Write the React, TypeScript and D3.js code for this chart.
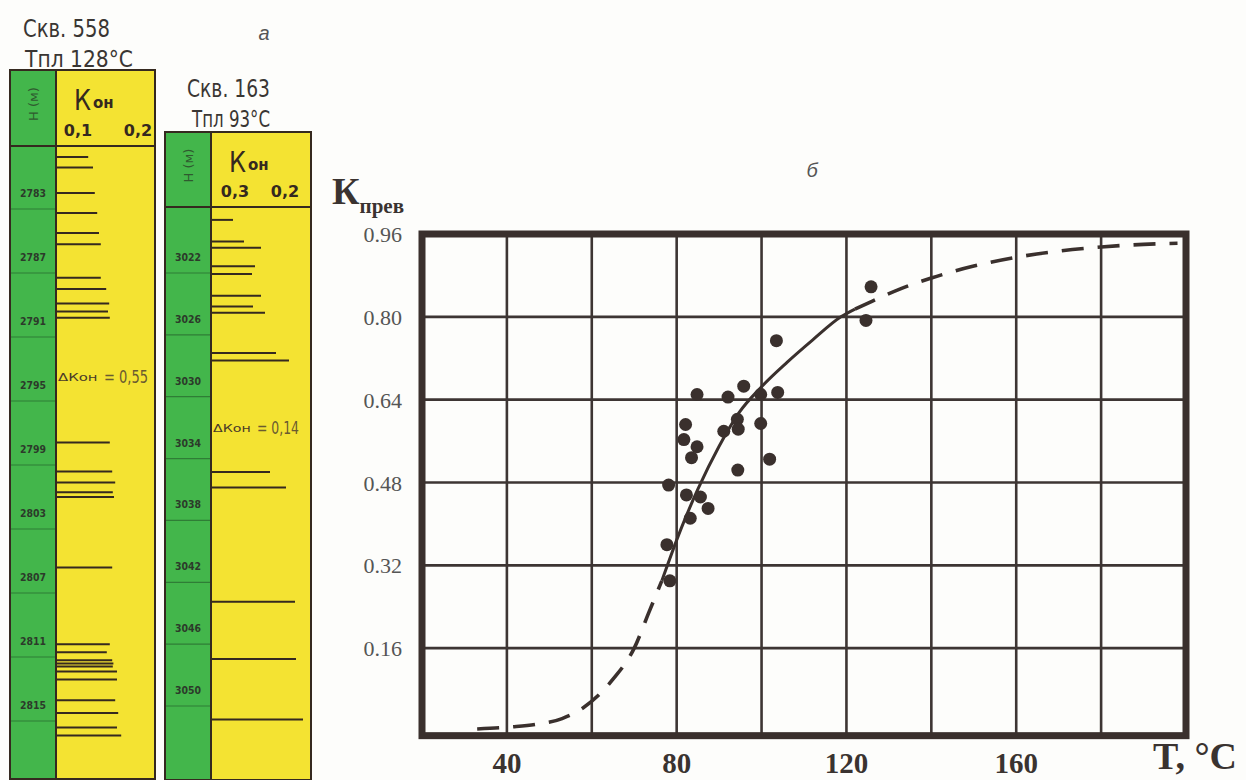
import React from 'react';
import * as d3 from 'd3';

// ---------- right chart data ----------
const tempTickValues = [40, 80, 120, 160];
const tempGridValues = [40, 60, 80, 100, 120, 140, 160, 180];
const kTickValues = [0.16, 0.32, 0.48, 0.64, 0.8, 0.96];
const kTickLabels = ['0.16', '0.32', '0.48', '0.64', '0.80', '0.96'];

const pointT = [125.8, 124.6, 103.5, 84.8, 92.1, 95.8, 99.8, 103.8, 82.1, 81.7, 84.8, 83.5, 91.1, 94.3, 94.5, 99.8, 101.9, 94.4, 78.1, 82.3, 85.6, 87.4, 83.2, 77.7, 78.4];
const pointK = [0.858, 0.793, 0.754, 0.65, 0.645, 0.666, 0.65, 0.654, 0.592, 0.563, 0.549, 0.528, 0.579, 0.602, 0.583, 0.594, 0.525, 0.504, 0.475, 0.456, 0.452, 0.43, 0.411, 0.36, 0.29];

const lowerT = [33, 41, 47, 53, 58, 61.7, 65, 70, 73.5, 76.5];
const lowerK = [0.004, 0.008, 0.013, 0.024, 0.045, 0.07, 0.1, 0.16, 0.23, 0.29];
const solidT = [76.5, 81, 85, 90, 94.7, 100, 106, 112, 118.7, 122];
const solidK = [0.29, 0.39, 0.467, 0.55, 0.615, 0.665, 0.712, 0.755, 0.8, 0.815];
const upperT = [122, 126, 133, 140, 150, 160, 170, 180, 190, 198];
const upperK = [0.815, 0.83, 0.855, 0.875, 0.898, 0.915, 0.927, 0.935, 0.94, 0.942];

// ---------- well logs data ----------
const well1Title = 'Скв. 558';
const well1Temp = 'Тпл  128°С';
const well1DepthLabels = [2783, 2787, 2791, 2795, 2799, 2803, 2807, 2811, 2815];
const well1Depths = [2780.75, 2781.4, 2783, 2784.25, 2785.5, 2786.2, 2788.3, 2789, 2789.9, 2790.4, 2790.8, 2798.6, 2800.4, 2801.1, 2801.7, 2802, 2806.4, 2811.2, 2811.7, 2812.2, 2812.4, 2812.6, 2812.9, 2813.4, 2814.7, 2815.5, 2816.4, 2816.9];
const well1Kon = [0.117, 0.125, 0.128, 0.132, 0.135, 0.138, 0.138, 0.147, 0.152, 0.15, 0.153, 0.153, 0.157, 0.162, 0.158, 0.16, 0.157, 0.153, 0.148, 0.157, 0.159, 0.158, 0.165, 0.165, 0.162, 0.167, 0.165, 0.172];
const well1ScaleLabels = ['0,1', '0,2'];
const well1Delta = '0,55';

const well2Title = 'Скв. 163';
const well2Temp = 'Тпл   93°С';
const well2DepthLabels = [3022, 3026, 3030, 3034, 3038, 3042, 3046, 3050];
const well2Depths = [3019.6, 3021, 3021.4, 3022.6, 3023.1, 3024.5, 3025.2, 3025.6, 3028.2, 3028.7, 3035.9, 3036.9, 3044.3, 3048, 3051.9];
const well2Kon = [0.304, 0.282, 0.248, 0.26, 0.266, 0.248, 0.264, 0.24, 0.218, 0.192, 0.23, 0.198, 0.18, 0.178, 0.164];
const well2ScaleLabels = ['0,3', '0,2'];
const well2Delta = '0,14';

const W = 1246;
const H = 780;

const GREEN = '#43b64b';
const YELLOW = '#f4e332';
const INK = '#35291f';
const HAND = '"DejaVu Sans", sans-serif';

type PanelProps = {
  x0: number; xg: number; x1: number; headTop: number; headBot: number; bottom: number;
  title: string; temp: string; titleX: number; titleW: number; titleY: number; tempX: number; tempW: number;
  depthLabels: number[]; depthDomain: [number, number]; depthRange: [number, number];
  depths: number[]; kon: number[]; konDomain: [number, number]; konRange: [number, number];
  scaleLabels: string[]; delta: string; deltaY: number; deltaW: number;
};

function WellPanel(p: PanelProps) {
  const ys = d3.scaleLinear().domain(p.depthDomain).range(p.depthRange);
  const xs = d3.scaleLinear().domain(p.konDomain).range(p.konRange);
  const gx = (p.x0 + p.xg) / 2;
  return (
    <g>
      <text x={p.titleX} y={p.titleY} fontFamily={HAND} fontSize={25} fill="#3a3633" textLength={p.titleW} lengthAdjust="spacingAndGlyphs">{p.title}</text>
      <text x={p.tempX} y={p.titleY + 30} fontFamily={HAND} fontSize={23} fill="#3a3633" textLength={p.tempW} lengthAdjust="spacingAndGlyphs">{p.temp}</text>
      <rect x={p.x0} y={p.headTop} width={p.xg - p.x0} height={p.bottom - p.headTop} fill={GREEN} />
      <rect x={p.xg} y={p.headTop} width={p.x1 - p.xg} height={p.bottom - p.headTop} fill={YELLOW} />
      {/* header */}
      <text transform={`translate(${gx + 5},${(p.headTop + p.headBot) / 2 - 4}) rotate(-90)`} textAnchor="middle" fontFamily={HAND} fontSize={13} fill="#2f5a2f">Н  (м)</text>
      <text x={p.xg + 18} y={p.headTop + 40} fontFamily={HAND} fontSize={28} fill={INK} textLength={17} lengthAdjust="spacingAndGlyphs">К</text>
      <text x={p.xg + 37} y={p.headTop + 38} fontFamily={HAND} fontSize={15} fontWeight="bold" fill={INK}>он</text>
      <text x={p.konRange[0]} y={p.headBot - 10} textAnchor="middle" fontFamily={HAND} fontSize={16} fontWeight="bold" fill={INK}>{p.scaleLabels[0]}</text>
      <text x={p.konRange[1]} y={p.headBot - 10} textAnchor="middle" fontFamily={HAND} fontSize={16} fontWeight="bold" fill={INK}>{p.scaleLabels[1]}</text>
      <line x1={p.x0} x2={p.x1} y1={p.headBot} y2={p.headBot} stroke={INK} strokeWidth={2} />
      {/* depth labels and dividers */}
      {p.depthLabels.map((d) => (
        <g key={d}>
          <text x={gx} y={ys(d) + 4} textAnchor="middle" fontFamily={HAND} fontSize={10} fontWeight="bold" fill="#2c3a2a" textLength={26} lengthAdjust="spacingAndGlyphs">{d}</text>
          <line x1={p.x0} x2={p.xg} y1={ys(d) + 16} y2={ys(d) + 16} stroke="#2f7d36" strokeWidth={1.2} />
        </g>
      ))}
      {/* Kon marks */}
      {p.depths.map((d, i) => (
        <line key={i} x1={p.xg} x2={xs(p.kon[i])} y1={ys(d)} y2={ys(d)} stroke={INK} strokeWidth={2} />
      ))}
      <text x={p.xg + 2} y={p.deltaY} fontFamily={HAND} fontSize={11} fill="#4a3a28" textLength={p.deltaW * 0.45} lengthAdjust="spacingAndGlyphs">{'ΔКон'}</text>
      <text x={p.xg + 4 + p.deltaW * 0.5} y={p.deltaY + 2} fontFamily={HAND} fontSize={17} fill="#6a5a30" textLength={p.deltaW * 0.5} lengthAdjust="spacingAndGlyphs">{'= ' + p.delta}</text>
      {/* borders */}
      <rect x={p.x0} y={p.headTop} width={p.x1 - p.x0} height={p.bottom - p.headTop} fill="none" stroke={INK} strokeWidth={2} />
      <line x1={p.xg} x2={p.xg} y1={p.headTop} y2={p.bottom} stroke={INK} strokeWidth={2} />
    </g>
  );
}

export default function App() {
  const xs = d3.scaleLinear().domain([20, 200]).range([422, 1186]);
  const ys = d3.scaleLinear().domain([0, 0.96]).range([731, 234]);
  const line = d3.line<[number, number]>().x((d) => xs(d[0])).y((d) => ys(d[1])).curve(d3.curveMonotoneX);
  const lowerPath = line(lowerT.map((t, i) => [t, lowerK[i]])) || '';
  const solidPath = line(solidT.map((t, i) => [t, solidK[i]])) || '';
  const upperPath = line(upperT.map((t, i) => [t, upperK[i]])) || '';
  const fx0 = xs(20), fx1 = xs(200), fy0 = ys(0.96), fy1 = ys(-0.009);
  const gridColor = '#3d3533';

  return (
    <svg width={W} height={H} style={{ position: 'absolute', left: 0, top: 0, background: '#fff' }}>
      <rect x={0} y={0} width={W} height={H} fill="#fdfdfb" />
      <WellPanel x0={10} xg={56} x1={155} headTop={70} headBot={146} bottom={779}
        title={well1Title} temp={well1Temp} titleX={23} titleW={87} titleY={37} tempX={25} tempW={108}
        depthLabels={well1DepthLabels} depthDomain={[2783, 2815]} depthRange={[193, 705]}
        depths={well1Depths} kon={well1Kon} konDomain={[0.1, 0.2]} konRange={[78, 138]}
        scaleLabels={well1ScaleLabels} delta={well1Delta} deltaY={381} deltaW={88} />
      <WellPanel x0={165} xg={211} x1={311} headTop={132} headBot={207} bottom={780}
        title={well2Title} temp={well2Temp} titleX={187} titleW={83} titleY={97} tempX={192} tempW={78}
        depthLabels={well2DepthLabels} depthDomain={[3022, 3050]} depthRange={[257, 690]}
        depths={well2Depths} kon={well2Kon} konDomain={[0.3, 0.2]} konRange={[235, 285]}
        scaleLabels={well2ScaleLabels} delta={well2Delta} deltaY={432} deltaW={84} />
      <text x={264} y={40} textAnchor="middle" fontFamily="Liberation Sans, sans-serif" fontStyle="italic" fontSize={20} fill="#555">а</text>

      {/* chart б */}
      <text x={812} y={177} textAnchor="middle" fontFamily="Liberation Sans, sans-serif" fontStyle="italic" fontSize={20} fill="#555">б</text>
      {tempGridValues.map((t) => (
        <line key={'gx' + t} x1={xs(t)} x2={xs(t)} y1={fy0} y2={fy1} stroke={gridColor} strokeWidth={2.6} />
      ))}
      {kTickValues.slice(0, 5).map((k) => (
        <line key={'gy' + k} x1={fx0} x2={fx1} y1={ys(k)} y2={ys(k)} stroke={gridColor} strokeWidth={2.6} />
      ))}
      <rect x={fx0} y={fy0} width={fx1 - fx0} height={fy1 - fy0} fill="none" stroke="#3a302d" strokeWidth={7} />
      {kTickValues.map((k, i) => (
        <text key={'ky' + k} x={402} y={ys(k) + 8} textAnchor="end" fontFamily="Liberation Serif, serif" fontSize={22} fill="#555">{kTickLabels[i]}</text>
      ))}
      {tempTickValues.map((t) => (
        <text key={'tx' + t} x={xs(t)} y={773} textAnchor="middle" fontFamily="Liberation Serif, serif" fontWeight="bold" fontSize={29} fill="#3a3330">{t}</text>
      ))}
      <text x={1153} y={769} fontFamily="Liberation Serif, serif" fontWeight="bold" fontSize={38} fill="#3a3330" textLength={84} lengthAdjust="spacingAndGlyphs">T, °C</text>
      <text x={332} y={204} fontFamily="Liberation Serif, serif" fontWeight="bold" fill="#3a3330">
        <tspan fontSize={38}>К</tspan>
        <tspan fontSize={21} dy={9}>прев</tspan>
      </text>

      <path d={lowerPath} fill="none" stroke="#3a302d" strokeWidth={3.6} strokeDasharray="22 14" />
      <path d={solidPath} fill="none" stroke="#3a302d" strokeWidth={3} />
      <path d={upperPath} fill="none" stroke="#3a302d" strokeWidth={3.6} strokeDasharray="22 14" />
      {pointT.map((t, i) => (
        <circle key={'p' + i} cx={xs(t)} cy={ys(pointK[i])} r={6.5} fill="#3a302d" />
      ))}
    </svg>
  );
}
